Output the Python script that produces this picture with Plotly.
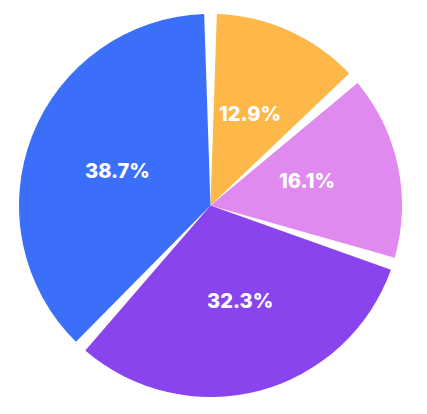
import math
import plotly.graph_objects as go

labels = ["A", "B", "C", "D"]
values = [4, 5, 10, 12]
colors = ["#FDB849", "#E08AF0", "#8A44EE", "#3B6FF9"]

gap_frac = 0.011  # angular gap as fraction of full circle
W, H = 427, 414
margin = dict(l=10, r=32, t=6, b=25)
label_r = 0.52  # label distance as fraction of radius

total = sum(values)
gap = total * gap_frac
pie_vals, pie_cols = [gap / 2], ["rgba(0,0,0,0)"]
for i, (v, c) in enumerate(zip(values, colors)):
    pie_vals.append(v)
    pie_cols.append(c)
    pie_vals.append(gap if i < len(values) - 1 else gap / 2)
    pie_cols.append("rgba(0,0,0,0)")

fig = go.Figure(go.Pie(
    values=pie_vals,
    textinfo="none",
    sort=False,
    direction="clockwise",
    rotation=0,
    marker=dict(colors=pie_cols, line=dict(width=0)),
    hoverinfo="skip",
    showlegend=False,
))

pw = W - margin["l"] - margin["r"]
ph = H - margin["t"] - margin["b"]
R = min(pw, ph) / 2
cum = 0.0
for v in values:
    mid = (cum + v / 2) / total * 2 * math.pi
    cum += v
    fig.add_annotation(
        x=0.5, y=0.5, xref="paper", yref="paper",
        xshift=math.sin(mid) * label_r * R,
        yshift=math.cos(mid) * label_r * R,
        text=f"{v / total * 100:.1f}%",
        showarrow=False,
        font=dict(family="Inter", size=20, color="white", weight=800),
    )

fig.update_layout(
    width=W, height=H,
    margin=margin,
    paper_bgcolor="white", plot_bgcolor="white",
)
fig.write_html("out.html")
